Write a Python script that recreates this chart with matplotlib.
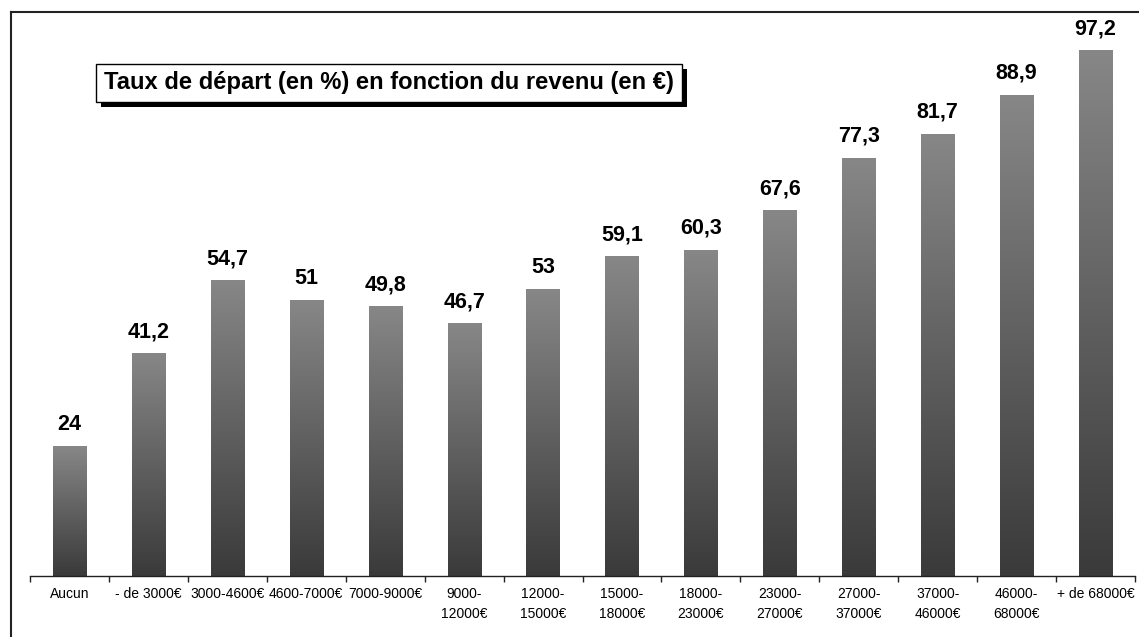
import numpy as np
import matplotlib
matplotlib.use('Agg')
import matplotlib.pyplot as plt
from matplotlib.colors import LinearSegmentedColormap
from matplotlib.lines import Line2D
from matplotlib.patches import Rectangle

# categories (income brackets) and departure rates (%)
categories = ['Aucun', '- de 3000€', '3000-4600€', '4600-7000€', '7000-9000€',
              '9000-\n12000€', '12000-\n15000€', '15000-\n18000€', '18000-\n23000€',
              '23000-\n27000€', '27000-\n37000€', '37000-\n46000€', '46000-\n68000€',
              '+ de 68000€']
rates = [24, 41.2, 54.7, 51, 49.8, 46.7, 53, 59.1, 60.3, 67.6, 77.3, 81.7, 88.9, 97.2]
value_labels = ['24', '41,2', '54,7', '51', '49,8', '46,7', '53', '59,1', '60,3',
                '67,6', '77,3', '81,7', '88,9', '97,2']
title = 'Taux de départ (en %) en fonction du revenu (en €)'

plt.rcParams['font.family'] = ['Liberation Sans', 'DejaVu Sans']

W, H = 1139, 637
fig = plt.figure(figsize=(W / 100, H / 100), dpi=100)

# axes placed in pixel coordinates: x 30..1135, baseline y=576, top y=12
ax = fig.add_axes([30 / W, (H - 576) / H, 1105 / W, 564 / H])
n = len(rates)
x = np.arange(n)
ax.set_xlim(-0.5, n - 0.5)
ax.set_ylim(0, 104.2)

bars = ax.bar(x, rates, width=0.42, color='none', edgecolor='none')

# vertical gradient inside each bar
cmap = LinearSegmentedColormap.from_list('grad', ['#3a3a3a', '#878787'])
grad = np.linspace(0, 1, 256).reshape(-1, 1)
for b in bars:
    x0, y0 = b.get_x(), b.get_y()
    w, h = b.get_width(), b.get_height()
    im = ax.imshow(grad, cmap=cmap, origin='lower', aspect='auto',
                   extent=(x0, x0 + w, y0, y0 + h), zorder=2)
    im.set_clip_path(b)

for xi, v, lab in zip(x, rates, value_labels):
    ax.text(xi, v + 2.0, lab, ha='center', va='bottom', fontsize=15.5,
            fontweight='bold', color='black')

# spines and ticks
for s in ['top', 'right', 'left']:
    ax.spines[s].set_visible(False)
ax.spines['bottom'].set_color('#222222')
ax.spines['bottom'].set_linewidth(1.0)
ax.set_yticks([])
ax.set_xticks(x)
ax.set_xticklabels(categories, fontsize=10, linespacing=1.55)
ax.tick_params(axis='x', which='major', length=0, pad=8)
ax.set_xticks(np.arange(-0.5, n, 1.0), minor=True)
ax.tick_params(axis='x', which='minor', length=4, color='#222222', width=1.0)

# title box with drop shadow
t = fig.text(104 / W, 1 - 83 / H, title, fontsize=17.1, fontweight='bold',
             ha='left', va='center', zorder=3,
             bbox=dict(boxstyle='square,pad=0.33', facecolor='white',
                       edgecolor='black', linewidth=1.0))
fig.canvas.draw()
bb = t.get_bbox_patch().get_window_extent()
fig.add_artist(Rectangle(((bb.x0 + 5) / W, (bb.y0 - 5) / H), bb.width / W, bb.height / H,
                         facecolor='black', edgecolor='none',
                         transform=fig.transFigure, zorder=2))

# outer frame (left and top lines)
fig.add_artist(Line2D([10.5 / W, 10.5 / W], [0, 1 - 12 / H], color='#222222',
                      linewidth=1.5, transform=fig.transFigure))
fig.add_artist(Line2D([10.5 / W, 1], [1 - 12 / H, 1 - 12 / H], color='#222222',
                      linewidth=1.5, transform=fig.transFigure))

fig.savefig('out.png', dpi=100)
